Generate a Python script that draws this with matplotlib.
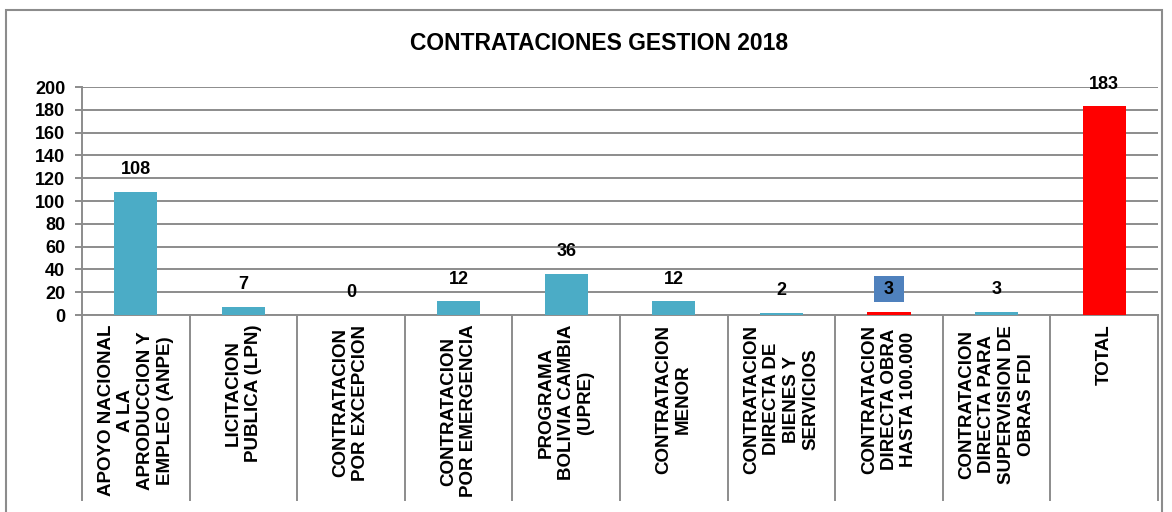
import matplotlib
matplotlib.use("Agg")
import matplotlib.pyplot as plt
import matplotlib.transforms as mtransforms
from matplotlib.patches import Rectangle

plt.rcParams["font.family"] = ["Liberation Sans", "DejaVu Sans"]
plt.rcParams["font.weight"] = "bold"

CATEGORIES = [
    "APOYO NACIONAL\nA LA\nAPRODUCCION Y\nEMPLEO (ANPE)",
    "LICITACION\nPUBLICA (LPN)",
    "CONTRATACION\nPOR EXCEPCION",
    "CONTRATACION\nPOR EMERGENCIA",
    "PROGRAMA\nBOLIVIA CAMBIA\n(UPRE)",
    "CONTRATACION\nMENOR",
    "CONTRATACION\nDIRECTA DE\nBIENES Y\nSERVICIOS",
    "CONTRATACION\nDIRECTA OBRA\nHASTA 100.000",
    "CONTRATACION\nDIRECTA PARA\nSUPERVISION DE\nOBRAS FDI",
    "TOTAL",
]
VALUES = [108, 7, 0, 12, 36, 12, 2, 3, 3, 183]
RED_BARS = [7, 9]          # indices drawn in red
BOXED_LABELS = [7]         # value label with a blue box behind it

TEAL = "#4BACC6"
RED = "#FF0000"
GRID = "#8C8C8C"

fig = plt.figure(figsize=(11.72, 5.12), dpi=100)
ax = fig.add_axes([82 / 1172, 1 - 315 / 512, (1158 - 82) / 1172, (315 - 87) / 512])

# outer chart frame
fig.patches.append(Rectangle((6 / 1172, -0.01), (1162 - 6) / 1172, 1 - 10 / 512 + 0.01,
                             transform=fig.transFigure, fill=False,
                             edgecolor="#8C8C8C", lw=1.5))

x = list(range(len(VALUES)))
colors = [RED if i in RED_BARS else TEAL for i in x]
ax.bar(x, VALUES, width=0.4, color=colors, zorder=3)

for i, v in zip(x, VALUES):
    text, box = str(v), None
    if i in BOXED_LABELS:
        text = f" {v} "
        box = dict(boxstyle="square,pad=0.25", facecolor="#4F81BD", edgecolor="none")
    ax.annotate(text, (i, v), xytext=(0, 16), textcoords="offset points",
                ha="center", va="center", fontsize=13, fontweight="bold",
                bbox=box, zorder=4)

ax.set_xlim(-0.5, len(VALUES) - 0.5)
ax.set_ylim(0, 200)
ax.set_yticks(range(0, 201, 20))
ax.yaxis.grid(True, color=GRID, lw=1.4, zorder=0)
ax.tick_params(axis="y", length=5, color=GRID, width=1.4, labelsize=13, pad=7)
for lab in ax.get_yticklabels():
    lab.set_fontweight("bold")

ax.set_xticks(x)
ax.set_xticklabels(CATEGORIES, rotation=90, fontsize=13.5, fontweight="bold",
                   multialignment="center", linespacing=1.2)
ax.tick_params(axis="x", length=0, pad=7)

for side in ["top", "right"]:
    ax.spines[side].set_visible(False)
for side in ["left", "bottom"]:
    ax.spines[side].set_color(GRID)
    ax.spines[side].set_linewidth(1.4)

# separators between categories below the axis
trans = mtransforms.blended_transform_factory(ax.transData, ax.transAxes)
for b in [i - 0.5 for i in range(len(VALUES) + 1)]:
    ax.plot([b, b], [0, -185 / 228], transform=trans, color=GRID, lw=1.4, clip_on=False)

fig.text(599 / 1172, 1 - 44 / 512, "CONTRATACIONES GESTION 2018", ha="center",
         va="center", fontsize=16.5, fontweight="bold")

fig.savefig("out.png", dpi=100)
